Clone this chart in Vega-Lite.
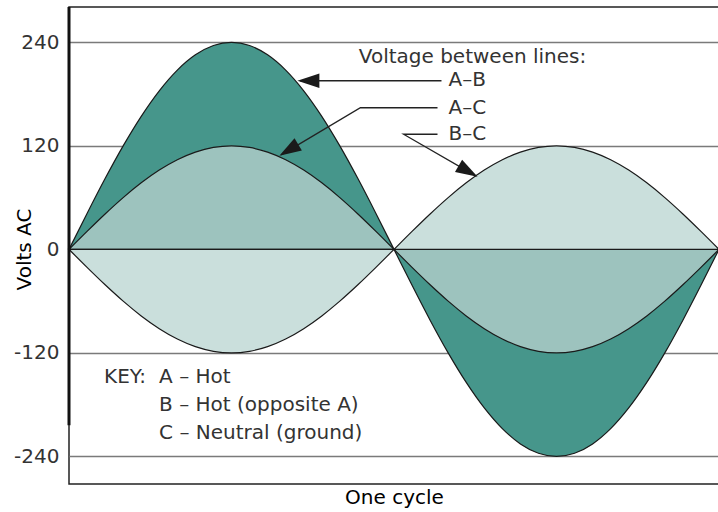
{
  "$schema": "https://vega.github.io/schema/vega-lite/v6.json",
  "autosize": {"type": "none"},
  "width": 650,
  "height": 477,
  "padding": {"left": 69, "top": 7, "right": 0, "bottom": 28},
  "background": "white",
  "config": {
    "view": {"stroke": "#222", "strokeWidth": 1.5},
    "font": "DejaVu Sans"
  },
  "datasets": {
    "wave": [
      {"t": 0, "ac": 0, "ab": 0, "bc": 0},
      {"t": 10, "ac": 20.84, "ab": 41.68, "bc": -20.84},
      {"t": 20, "ac": 41.04, "ab": 82.09, "bc": -41.04},
      {"t": 30, "ac": 60, "ab": 120, "bc": -60},
      {"t": 40, "ac": 77.13, "ab": 154.27, "bc": -77.13},
      {"t": 50, "ac": 91.93, "ab": 183.85, "bc": -91.93},
      {"t": 60, "ac": 103.92, "ab": 207.85, "bc": -103.92},
      {"t": 70, "ac": 112.76, "ab": 225.53, "bc": -112.76},
      {"t": 80, "ac": 118.18, "ab": 236.35, "bc": -118.18},
      {"t": 90, "ac": 120, "ab": 240, "bc": -120},
      {"t": 100, "ac": 118.18, "ab": 236.35, "bc": -118.18},
      {"t": 110, "ac": 112.76, "ab": 225.53, "bc": -112.76},
      {"t": 120, "ac": 103.92, "ab": 207.85, "bc": -103.92},
      {"t": 130, "ac": 91.93, "ab": 183.85, "bc": -91.93},
      {"t": 140, "ac": 77.13, "ab": 154.27, "bc": -77.13},
      {"t": 150, "ac": 60, "ab": 120, "bc": -60},
      {"t": 160, "ac": 41.04, "ab": 82.09, "bc": -41.04},
      {"t": 170, "ac": 20.84, "ab": 41.68, "bc": -20.84},
      {"t": 180, "ac": 0, "ab": 0, "bc": 0},
      {"t": 190, "ac": -20.84, "ab": -41.68, "bc": 20.84},
      {"t": 200, "ac": -41.04, "ab": -82.09, "bc": 41.04},
      {"t": 210, "ac": -60, "ab": -120, "bc": 60},
      {"t": 220, "ac": -77.13, "ab": -154.27, "bc": 77.13},
      {"t": 230, "ac": -91.93, "ab": -183.85, "bc": 91.93},
      {"t": 240, "ac": -103.92, "ab": -207.85, "bc": 103.92},
      {"t": 250, "ac": -112.76, "ab": -225.53, "bc": 112.76},
      {"t": 260, "ac": -118.18, "ab": -236.35, "bc": 118.18},
      {"t": 270, "ac": -120, "ab": -240, "bc": 120},
      {"t": 280, "ac": -118.18, "ab": -236.35, "bc": 118.18},
      {"t": 290, "ac": -112.76, "ab": -225.53, "bc": 112.76},
      {"t": 300, "ac": -103.92, "ab": -207.85, "bc": 103.92},
      {"t": 310, "ac": -91.93, "ab": -183.85, "bc": 91.93},
      {"t": 320, "ac": -77.13, "ab": -154.27, "bc": 77.13},
      {"t": 330, "ac": -60, "ab": -120, "bc": 60},
      {"t": 340, "ac": -41.04, "ab": -82.09, "bc": 41.04},
      {"t": 350, "ac": -20.84, "ab": -41.68, "bc": 20.84},
      {"t": 360, "ac": 0, "ab": 0, "bc": 0}
    ],
    "arrows": [
      {"arrow": "AB", "i": 0, "t": 206.3, "v": 195.5},
      {"arrow": "AB", "i": 1, "t": 128, "v": 195.5},
      {"arrow": "AC", "i": 0, "t": 204.1, "v": 164.2},
      {"arrow": "AC", "i": 1, "t": 161.4, "v": 164.2},
      {"arrow": "AC", "i": 2, "t": 117.5, "v": 109.5},
      {"arrow": "BC", "i": 0, "t": 204.1, "v": 133.5},
      {"arrow": "BC", "i": 1, "t": 185.3, "v": 133.5},
      {"arrow": "BC", "i": 2, "t": 225.5, "v": 85}
    ],
    "heads": [
      {"arrow": "AB", "t": 126.5, "v": 195.5},
      {"arrow": "AC", "t": 116.5, "v": 108.5},
      {"arrow": "BC", "t": 226.3, "v": 84.1}
    ],
    "labels": [
      {"label": "Voltage between lines:", "t": 160.5, "v": 223.4},
      {"label": "A–B", "t": 210.2, "v": 196.7},
      {"label": "A–C", "t": 210.2, "v": 164.2},
      {"label": "B–C", "t": 210.2, "v": 133.5},
      {"label": "KEY:", "t": 19.4, "v": -148},
      {"label": "A – Hot", "t": 49.9, "v": -148},
      {"label": "B – Hot (opposite A)", "t": 49.9, "v": -180.5},
      {"label": "C – Neutral (ground)", "t": 49.9, "v": -213}
    ]
  },
  "encoding": {
    "x": {
      "field": "t", "type": "quantitative",
      "scale": {"domain": [0, 360], "nice": false, "zero": false},
      "axis": {
        "title": "One cycle", "labels": false, "ticks": false, "domain": false, "grid": false,
        "titleFont": "DejaVu Sans", "titleFontSize": 20, "titleFontWeight": "normal", "titleColor": "#000",
        "titlePadding": 3
      }
    }
  },
  "layer": [
    {
      "data": {"name": "wave"},
      "mark": {"type": "area", "interpolate": "monotone", "fill": "#46968b", "fillOpacity": 1, "stroke": "#1a1a1a", "strokeWidth": 1.2},
      "encoding": {
        "y": {
          "field": "ab", "type": "quantitative",
          "scale": {"domain": [-272, 281], "nice": false, "zero": false},
          "axis": {
            "title": "Volts AC", "values": [-240, -120, 0, 120, 240],
            "labelExpr": "'' + datum.value",
            "ticks": false, "domain": false,
            "grid": true, "gridColor": "#7a7a7a", "gridWidth": 1.5,
            "labelFont": "DejaVu Sans", "labelFontSize": 20, "labelColor": "#333", "labelPadding": 10,
            "titleFont": "DejaVu Sans", "titleFontSize": 20, "titleFontWeight": "normal", "titleColor": "#000",
            "titleX": -45, "titleY": 242, "titleAngle": -90, "titleAlign": "center", "titleBaseline": "middle"
          }
        },
        "y2": {"datum": 0}
      }
    },
    {
      "data": {"name": "wave"},
      "mark": {"type": "area", "interpolate": "monotone", "fill": "#9dc3be", "fillOpacity": 1, "stroke": "#1a1a1a", "strokeWidth": 1.2},
      "encoding": {
        "y": {"field": "ac", "type": "quantitative"},
        "y2": {"datum": 0}
      }
    },
    {
      "data": {"name": "wave"},
      "mark": {"type": "area", "interpolate": "monotone", "fill": "#cadfdc", "fillOpacity": 1, "stroke": "#1a1a1a", "strokeWidth": 1.2},
      "encoding": {
        "y": {"field": "bc", "type": "quantitative"},
        "y2": {"datum": 0}
      }
    },
    {
      "data": {"values": [{"v": 0}]},
      "mark": {"type": "rule", "color": "#111", "strokeWidth": 3},
      "encoding": {"y": {"field": "v", "type": "quantitative"}}
    },
    {
      "data": {"values": [{"t": 0, "v": 281, "v2": -204}]},
      "mark": {"type": "rule", "color": "#111", "strokeWidth": 3},
      "encoding": {
        "y": {"field": "v", "type": "quantitative"},
        "y2": {"field": "v2"}
      }
    },
    {
      "data": {"name": "arrows"},
      "mark": {"type": "line", "color": "#222", "strokeWidth": 1.3},
      "encoding": {
        "y": {"field": "v", "type": "quantitative"},
        "detail": {"field": "arrow"},
        "order": {"field": "i"}
      }
    },
    {
      "data": {"name": "heads"},
      "transform": [{"filter": "datum.arrow == 'AB'"}],
      "mark": {"type": "point", "shape": "M0,0L-2,-0.65L-2,0.65Z", "size": 484, "filled": true, "fill": "#1a1a1a", "opacity": 1, "strokeWidth": 0, "angle": 180},
      "encoding": {"y": {"field": "v", "type": "quantitative"}}
    },
    {
      "data": {"name": "heads"},
      "transform": [{"filter": "datum.arrow == 'AC'"}],
      "mark": {"type": "point", "shape": "M0,0L-2,-0.65L-2,0.65Z", "size": 484, "filled": true, "fill": "#1a1a1a", "opacity": 1, "strokeWidth": 0, "angle": 149},
      "encoding": {"y": {"field": "v", "type": "quantitative"}}
    },
    {
      "data": {"name": "heads"},
      "transform": [{"filter": "datum.arrow == 'BC'"}],
      "mark": {"type": "point", "shape": "M0,0L-2,-0.65L-2,0.65Z", "size": 484, "filled": true, "fill": "#1a1a1a", "opacity": 1, "strokeWidth": 0, "angle": 30},
      "encoding": {"y": {"field": "v", "type": "quantitative"}}
    },
    {
      "data": {"name": "labels"},
      "mark": {"type": "text", "align": "left", "baseline": "middle", "font": "DejaVu Sans", "fontSize": 20, "color": "#333"},
      "encoding": {
        "y": {"field": "v", "type": "quantitative"},
        "text": {"field": "label"}
      }
    }
  ]
}
